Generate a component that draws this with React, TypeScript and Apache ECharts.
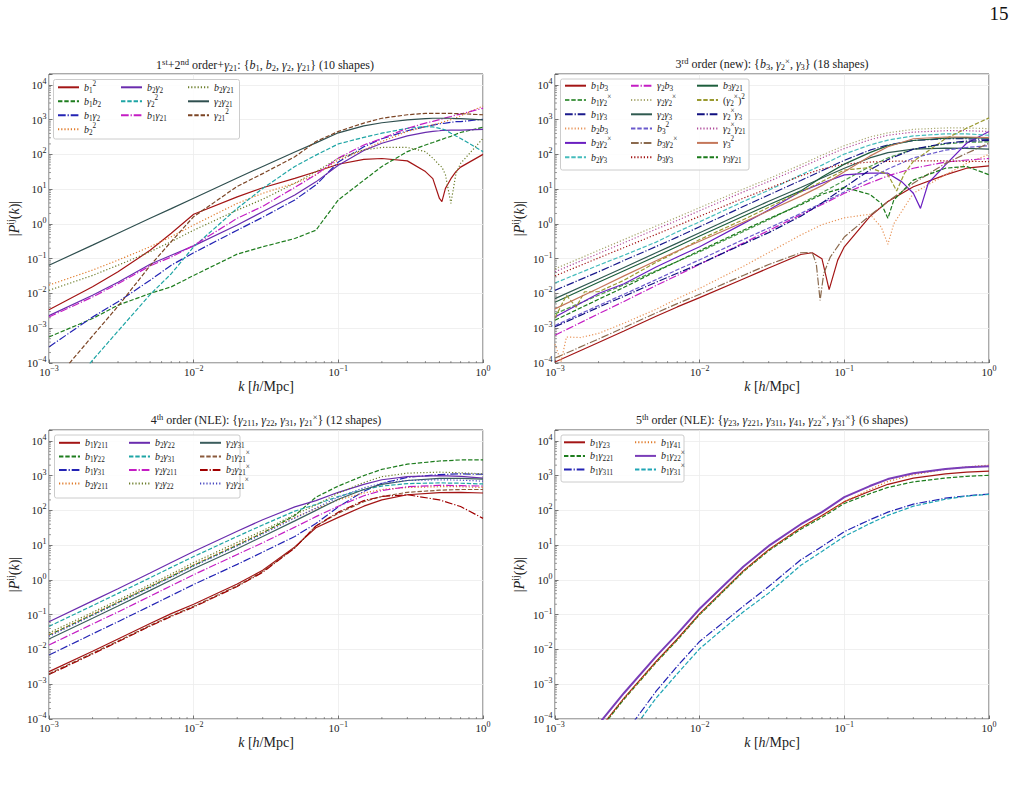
import React, { useEffect, useRef } from 'react';
import * as echarts from 'echarts';

const FONT = "'Liberation Serif', 'DejaVu Serif', serif";
const TXT = '#222222';

// ---------------- k grids (h/Mpc) ----------------
const K1 = [0.001, 0.002, 0.003, 0.005, 0.007, 0.01, 0.02, 0.03, 0.05, 0.07, 0.1, 0.15, 0.2, 0.3, 0.4, 0.45, 0.5, 0.52, 0.55, 0.6, 0.65, 0.7, 1];
const K2 = [0.001, 0.002, 0.003, 0.005, 0.007, 0.01, 0.02, 0.03, 0.05, 0.07, 0.1, 0.15, 0.2, 0.3, 0.5, 0.7, 1];
const K2_b1b3 = [0.001, 0.002, 0.003, 0.005, 0.007, 0.01, 0.02, 0.03, 0.05, 0.06, 0.07, 0.0785, 0.09, 0.1, 0.15, 0.2, 0.3, 0.5, 0.7, 1];
const K2_b3g2x = [0.001, 0.002, 0.003, 0.005, 0.007, 0.01, 0.02, 0.03, 0.05, 0.06, 0.064, 0.068, 0.072, 0.08, 0.1, 0.15, 0.2, 0.3, 0.5, 0.7, 1];
const K2_b2b3 = [0.001, 0.0011, 0.0012, 0.0015, 0.002, 0.003, 0.005, 0.007, 0.01, 0.02, 0.03, 0.05, 0.07, 0.1, 0.15, 0.18, 0.2, 0.22, 0.3, 0.5, 0.7, 1];
const K2_b2g2x = [0.001, 0.002, 0.003, 0.005, 0.007, 0.01, 0.02, 0.03, 0.05, 0.07, 0.1, 0.15, 0.2, 0.25, 0.3, 0.336, 0.38, 0.5, 0.7, 1];
const K2_g3g21 = [0.001, 0.002, 0.003, 0.005, 0.007, 0.01, 0.02, 0.03, 0.05, 0.07, 0.1, 0.15, 0.18, 0.2, 0.22, 0.3, 0.5, 0.7, 1];
const K2_g2xsq = [0.001, 0.0012, 0.0014, 0.0016, 0.002, 0.003, 0.005, 0.007, 0.01, 0.02, 0.03, 0.05, 0.07, 0.1, 0.15, 0.2, 0.23, 0.26, 0.3, 0.5, 0.7, 1];
const K3 = [0.001, 0.002, 0.003, 0.005, 0.007, 0.01, 0.02, 0.03, 0.05, 0.07, 0.1, 0.15, 0.2, 0.3, 0.5, 0.7, 1];
const K4 = [0.001, 0.002, 0.003, 0.005, 0.007, 0.01, 0.02, 0.03, 0.05, 0.07, 0.1, 0.15, 0.2, 0.3, 0.5, 0.7, 1];

// ---------------- panel 1: 1st+2nd order + gamma21 ----------------
const P1_b1b1 = [3.4e-3, 1.55e-2, 4.2e-2, 0.174, 0.54, 1.9, 6.0, 11, 20.4, 31.6, 52, 72, 76, 65, 32, 20, 5.4, 4.4, 10.5, 20, 32, 43, 100];
const P1_b1b2 = [5.6e-4, 1.9e-3, 4.6e-3, 1.0e-2, 1.55e-2, 3.3e-2, 0.135, 0.22, 0.38, 0.66, 4.9, 18, 45, 120, 186, 219, 257, 269, 295, 331, 380, 427, 603];
const P1_b1g2 = [2.9e-4, 2.1e-3, 5.75e-3, 2.4e-2, 6.5e-2, 0.148, 0.66, 1.55, 4.9, 13.2, 60, 166, 282, 479, 631, 692, 759, 776, 794, 832, 871, 880, 1023];
const P1_b2b2 = [1.74e-2, 4.7e-2, 9.1e-2, 0.22, 0.43, 0.93, 3.9, 7.6, 14.8, 25.7, 69, 135, 234, 457, 631, 708, 794, 832, 891, 1000, 1122, 1288, 2455];
const P1_b2g2 = [2.3e-3, 8.9e-3, 2.1e-2, 6.9e-2, 0.126, 0.234, 0.93, 2.24, 6.8, 16.2, 49, 129, 209, 339, 427, 457, 479, 490, 490, 501, 501, 501, 525];
const P1_g2g2 = [4e-6, 1.2e-4, 8.3e-4, 9.3e-3, 3.7e-2, 0.22, 2.8, 10.5, 45, 95, 200, 309, 407, 562, 631, 617, 562, 537, 501, 407, 339, 288, 120];
const P1_b1g21 = [2.1e-3, 7.9e-3, 1.9e-2, 6.2e-2, 0.112, 0.24, 1.45, 3.2, 11.2, 26, 78, 186, 288, 562, 794, 891, 1000, 1047, 1122, 1230, 1349, 1445, 2138];
const P1_b2g21 = [1.23e-2, 3.3e-2, 6.5e-2, 0.158, 0.31, 0.66, 2.5, 5.1, 14.8, 31.6, 78, 135, 158, 158, 120, 78, 49, 43, 26, 3.9, 28, 55, 288];
const P1_g2g21 = [6.5e-2, 0.245, 0.54, 1.45, 2.75, 5.5, 21, 45, 117, 214, 417, 661, 813, 977, 1072, 1096, 1096, 1096, 1096, 1096, 1072, 1072, 977];
const P1_g21g21 = [2e-5, 6e-4, 4.3e-3, 6.3e-2, 0.31, 1.62, 12, 28, 85, 234, 457, 794, 1096, 1380, 1514, 1514, 1514, 1514, 1514, 1514, 1479, 1479, 1380];

// ---------------- panel 2: 3rd order (new) ----------------
const P2_b1b3 = [1.07e-4, 3.9e-4, 8.3e-4, 2.2e-3, 4.1e-3, 7.6e-3, 2.6e-2, 5.4e-2, 0.132, 0.148, 0.1, 0.0129, 0.091, 0.22, 1.62, 4.4, 11.7, 25.7, 40, 47];
const P2_b1g2x = [2.6e-3, 8.9e-3, 1.78e-2, 4.5e-2, 8.3e-2, 0.158, 0.6, 1.32, 3.8, 7.9, 17.8, 44.7, 79, 141, 200, 224, 229];
const P2_b1g3 = [1.23e-2, 4.2e-2, 8.9e-2, 0.224, 0.417, 0.83, 3.16, 6.8, 17.8, 33.9, 67.6, 132, 186, 251, 282, 282, 269];
const P2_b2b3 = [3.5e-4, 1.07e-4, 5.6e-4, 5.4e-4, 7.1e-4, 1.4e-3, 3.5e-3, 7.1e-3, 1.4e-2, 6.0e-2, 0.15, 0.48, 0.95, 1.5, 1.9, 0.81, 0.26, 1.02, 7.6, 26, 55, 100];
const P2_b2g2x = [2.1e-3, 1.0e-2, 1.9e-2, 5.75e-2, 0.112, 0.22, 1.02, 2.5, 8.5, 14.8, 25.7, 28.8, 28.8, 16.2, 7.6, 2.8, 14.8, 50, 209, 457];
const P2_b2g3 = [2.0e-2, 6.5e-2, 0.126, 0.3, 0.59, 1.15, 4.4, 9.3, 25.7, 49, 102, 186, 257, 339, 389, 389, 355];
const P2_g2b3 = [6.3e-4, 2.6e-3, 5.9e-3, 1.7e-2, 3.3e-2, 6.9e-2, 0.28, 0.65, 1.82, 3.6, 7.6, 15.1, 24, 40, 60, 69, 76];
const P2_g2g2x = [5.1e-2, 0.174, 0.355, 0.87, 1.55, 2.95, 10, 20, 50, 95, 178, 316, 417, 525, 575, 575, 550];
const P2_g2g3 = [7.1e-3, 2.6e-2, 5.6e-2, 0.148, 0.28, 0.56, 2.1, 4.5, 11.2, 20.9, 39.8, 79, 112, 141, 151, 148, 141];
const P2_b3b3 = [1.2e-3, 4.5e-3, 9.5e-3, 2.5e-2, 4.8e-2, 9.3e-2, 0.355, 0.76, 2.0, 4.0, 8.3, 20, 38, 79, 132, 158, 178];
const P2_b3g2x = [1.38e-4, 4.9e-4, 1.05e-3, 2.75e-3, 5.1e-3, 9.5e-3, 3.3e-2, 6.8e-2, 0.148, 0.151, 0.071, 0.0063, 0.037, 0.112, 0.42, 1.74, 4.4, 14.8, 55, 107, 209];
const P2_b3g3 = [3.2e-2, 0.105, 0.209, 0.5, 0.89, 1.66, 5.5, 10.5, 24, 38, 52.5, 60, 63, 65, 65, 63, 62];
const P2_b3g21 = [5.6e-3, 2.1e-2, 4.5e-2, 0.117, 0.224, 0.447, 1.66, 3.55, 8.9, 22.4, 52.5, 112, 178, 251, 295, 302, 295];
const P2_g2xg2x = [2.0e-3, 8.9e-3, 4.0e-3, 1.12e-2, 1.12e-2, 2.4e-2, 7.9e-2, 0.158, 0.355, 1.32, 3.0, 8.3, 16.6, 35.5, 41.7, 26.3, 8.9, 28.2, 63, 282, 562, 1122];
const P2_g2xg3 = [1.1e-3, 4.0e-3, 8.3e-3, 2.1e-2, 3.8e-2, 7.1e-2, 0.263, 0.562, 1.66, 4.0, 11.2, 35.5, 70.8, 141, 209, 240, 251];
const P2_g2xg21 = [4.2e-2, 0.141, 0.288, 0.71, 1.26, 2.4, 8.3, 16.6, 41.7, 79, 148, 263, 355, 437, 479, 479, 457];
const P2_g3g3 = [3.6e-3, 1.41e-2, 3.2e-2, 8.7e-2, 0.166, 0.316, 1.12, 2.4, 6.3, 12.6, 31.6, 89, 166, 282, 316, 316, 302];
const P2_g3g21 = [1.7e-3, 6.8e-3, 1.5e-2, 4.3e-2, 8.3e-2, 0.17, 0.66, 1.41, 3.55, 7.1, 11.2, 7.1, 3.9, 1.45, 4.9, 18.2, 40, 45, 26];

// ---------------- panel 3: 4th order (NLE) ----------------
const P3_b1g211 = [2.3e-3, 8.9e-3, 2.0e-2, 5.6e-2, 0.107, 0.2, 0.76, 1.9, 8.9, 31.6, 63, 132, 200, 282, 324, 331, 316];
const P3_b1g22 = [2.6e-2, 0.1, 0.224, 0.63, 1.26, 2.63, 10, 22.4, 71, 240, 501, 1000, 1514, 2138, 2630, 2818, 2818];
const P3_b1g31 = [6.9e-3, 2.8e-2, 6.3e-2, 0.178, 0.355, 0.74, 2.8, 6.3, 17.8, 41.7, 126, 355, 603, 891, 1072, 1122, 1096];
const P3_b2g211 = [2.6e-2, 0.105, 0.234, 0.66, 1.32, 2.75, 10.5, 22.9, 63, 112, 200, 316, 398, 457, 479, 479, 457];
const P3_b2g22 = [6.3e-2, 0.25, 0.56, 1.58, 3.16, 6.6, 25, 54, 126, 191, 331, 562, 759, 933, 1000, 955, 851];
const P3_b2g31 = [4.6e-2, 0.182, 0.41, 1.15, 2.3, 4.7, 17.8, 38, 95, 148, 251, 398, 501, 589, 617, 603, 575];
const P3_g2g211 = [1.35e-2, 5.4e-2, 0.12, 0.34, 0.68, 1.41, 5.4, 11.7, 33, 66, 132, 263, 372, 479, 525, 513, 501];
const P3_g2g22 = [3.0e-2, 0.117, 0.263, 0.74, 1.48, 3.16, 12, 26, 76, 141, 316, 631, 933, 1175, 1259, 1202, 1122];
const P3_g2g31 = [2.0e-2, 7.9e-2, 0.178, 0.5, 1.0, 2.1, 7.9, 17.8, 50, 100, 209, 398, 562, 724, 832, 832, 794];
const P3_b1g21x = [2.0e-3, 7.8e-3, 1.74e-2, 4.9e-2, 9.3e-2, 0.174, 0.676, 1.74, 8.5, 35.5, 83, 178, 251, 331, 380, 398, 398];
const P3_b2g21x = [1.9e-3, 7.4e-3, 1.66e-2, 4.7e-2, 8.9e-2, 0.166, 0.646, 1.66, 8.3, 35.5, 89, 191, 251, 282, 200, 129, 59];
const P3_g2g21x = [2.4e-2, 9.5e-2, 0.214, 0.6, 1.2, 2.5, 9.5, 20.9, 60, 117, 240, 447, 603, 724, 759, 741, 692];

// ---------------- panel 4: 5th order (NLE) ----------------
const P4_b1g23 = [6.3e-7, 4.8e-5, 4.0e-4, 4.5e-3, 2.0e-2, 0.107, 1.82, 7.4, 31.6, 71, 178, 355, 562, 851, 1122, 1259, 1349];
const P4_b1g221 = [5.6e-7, 4.4e-5, 3.7e-4, 4.2e-3, 1.86e-2, 0.1, 1.7, 6.9, 28.8, 63, 158, 302, 457, 661, 851, 955, 1023];
const P4_b1g311 = [1e-7, 2.5e-6, 3.5e-5, 6.3e-4, 3.3e-3, 1.7e-2, 0.174, 0.646, 3.8, 9.1, 24.5, 53.7, 89, 151, 224, 263, 295];
const P4_b1g41 = [6.0e-7, 4.6e-5, 3.8e-4, 4.3e-3, 1.9e-2, 0.102, 1.74, 7.2, 31.6, 69, 178, 398, 676, 1072, 1514, 1778, 1995];
const P4_b1g22x = [1e-6, 7.1e-5, 5.6e-4, 6.3e-3, 2.8e-2, 0.148, 2.4, 9.5, 40, 89, 240, 501, 794, 1175, 1549, 1738, 1862];
const P4_b1g31x = [5e-8, 1.26e-6, 2.2e-5, 4.0e-4, 2.0e-3, 1.05e-2, 0.12, 0.417, 2.63, 6.6, 17.8, 41.7, 72, 132, 209, 257, 288];

// axis ranges
const XMIN = 1e-3;
const XMAX = 1;
const YMIN = 1e-4;
const YMAX = 2.05e4;

type Dash = 'solid' | 'dashed' | 'dashdot' | 'dotted';
const DASH: Record<Dash, any> = {
  solid: 'solid',
  dashed: [4.4, 1.9],
  dashdot: [7.7, 1.9, 1.2, 1.9],
  dotted: [1.2, 2.0],
};

interface Curve { name: string; k: number[]; v: number[]; color: string; dash: Dash; width?: number }

const PANEL1: Curve[] = [
  { name: 'b_1^2', k: K1, v: P1_b1b1, color: '#a31515', dash: 'solid' },
  { name: 'b_1b_2', k: K1, v: P1_b1b2, color: '#1e7d1e', dash: 'dashed' },
  { name: 'b_1γ_2', k: K1, v: P1_b1g2, color: '#2323b4', dash: 'dashdot' },
  { name: 'b_2^2', k: K1, v: P1_b2b2, color: '#e07b2a', dash: 'dotted' },
  { name: 'b_2γ_2', k: K1, v: P1_b2g2, color: '#6a2cae', dash: 'solid' },
  { name: 'γ_2^2', k: K1, v: P1_g2g2, color: '#1fa5a5', dash: 'dashed' },
  { name: 'b_1γ_{21}', k: K1, v: P1_b1g21, color: '#c41dc4', dash: 'dashdot' },
  { name: 'b_2γ_{21}', k: K1, v: P1_b2g21, color: '#6b7d2a', dash: 'dotted' },
  { name: 'γ_2γ_{21}', k: K1, v: P1_g2g21, color: '#2f4f4f', dash: 'solid' },
  { name: 'γ_{21}^2', k: K1, v: P1_g21g21, color: '#7b4424', dash: 'dashed' },
];

const PANEL2: Curve[] = [
  { name: 'b_1b_3', k: K2_b1b3, v: P2_b1b3, color: '#a31515', dash: 'solid' },
  { name: 'b_1γ_2^×', k: K2, v: P2_b1g2x, color: '#4c9a4c', dash: 'dashed' },
  { name: 'b_1γ_3', k: K2, v: P2_b1g3, color: '#1a1a8c', dash: 'dashdot' },
  { name: 'b_2b_3', k: K2_b2b3, v: P2_b2b3, color: '#e8955a', dash: 'dotted' },
  { name: 'b_2γ_2^×', k: K2_b2g2x, v: P2_b2g2x, color: '#6a1fc0', dash: 'solid' },
  { name: 'b_2γ_3', k: K2, v: P2_b2g3, color: '#45bcbc', dash: 'dashed' },
  { name: 'γ_2b_3', k: K2, v: P2_g2b3, color: '#c41dc4', dash: 'dashdot' },
  { name: 'γ_2γ_2^×', k: K2, v: P2_g2g2x, color: '#a8a870', dash: 'dotted' },
  { name: 'γ_2γ_3', k: K2, v: P2_g2g3, color: '#2f5a50', dash: 'solid' },
  { name: 'b_3^2', k: K2, v: P2_b3b3, color: '#6a5acd', dash: 'dashed' },
  { name: 'b_3γ_2^×', k: K2_b3g2x, v: P2_b3g2x, color: '#8b6a4e', dash: 'dashdot' },
  { name: 'b_3γ_3', k: K2, v: P2_b3g3, color: '#a01010', dash: 'dotted' },
  { name: 'b_3γ_{21}', k: K2, v: P2_b3g21, color: '#1d5e3c', dash: 'solid' },
  { name: '(γ_2^×)^2', k: K2_g2xsq, v: P2_g2xg2x, color: '#9a9a30', dash: 'dashed' },
  { name: 'γ_2^×γ_3', k: K2, v: P2_g2xg3, color: '#101080', dash: 'dashdot' },
  { name: 'γ_2^×γ_{21}', k: K2, v: P2_g2xg21, color: '#b04a9a', dash: 'dotted' },
  { name: 'γ_3^2', k: K2, v: P2_g3g3, color: '#c4775a', dash: 'solid' },
  { name: 'γ_3γ_{21}', k: K2_g3g21, v: P2_g3g21, color: '#1a7a1a', dash: 'dashed' },
];

const PANEL3: Curve[] = [
  { name: 'b_1γ_{211}', k: K3, v: P3_b1g211, color: '#a31515', dash: 'solid' },
  { name: 'b_1γ_{22}', k: K3, v: P3_b1g22, color: '#1e7d1e', dash: 'dashed' },
  { name: 'b_1γ_{31}', k: K3, v: P3_b1g31, color: '#2323b4', dash: 'dashdot' },
  { name: 'b_2γ_{211}', k: K3, v: P3_b2g211, color: '#e07b2a', dash: 'dotted' },
  { name: 'b_2γ_{22}', k: K3, v: P3_b2g22, color: '#6a2cae', dash: 'solid' },
  { name: 'b_2γ_{31}', k: K3, v: P3_b2g31, color: '#1fa5a5', dash: 'dashed' },
  { name: 'γ_2γ_{211}', k: K3, v: P3_g2g211, color: '#c41dc4', dash: 'dashdot' },
  { name: 'γ_2γ_{22}', k: K3, v: P3_g2g22, color: '#6b7d2a', dash: 'dotted' },
  { name: 'γ_2γ_{31}', k: K3, v: P3_g2g31, color: '#3b5d5d', dash: 'solid' },
  { name: 'b_1γ_{21}^×', k: K3, v: P3_b1g21x, color: '#8b5a3c', dash: 'dashed' },
  { name: 'b_2γ_{21}^×', k: K3, v: P3_b2g21x, color: '#a00000', dash: 'dashdot' },
  { name: 'γ_2γ_{21}^×', k: K3, v: P3_g2g21x, color: '#4848c0', dash: 'dotted' },
];

const PANEL4: Curve[] = [
  { name: 'b_1γ_{23}', k: K4, v: P4_b1g23, color: '#a31515', dash: 'solid' },
  { name: 'b_1γ_{221}', k: K4, v: P4_b1g221, color: '#1e7d1e', dash: 'dashed' },
  { name: 'b_1γ_{311}', k: K4, v: P4_b1g311, color: '#2323b4', dash: 'dashdot' },
  { name: 'b_1γ_{41}', k: K4, v: P4_b1g41, color: '#e07b2a', dash: 'dotted' },
  { name: 'b_1γ_{22}^×', k: K4, v: P4_b1g22x, color: '#7a3db8', dash: 'solid', width: 2 },
  { name: 'b_1γ_{31}^×', k: K4, v: P4_b1g31x, color: '#1fa5b5', dash: 'dashed' },
];

const T1 = '1{sup|st}+2{sup|nd} order+{it|γ}{sub|21}: {{it|b}{sub|1}, {it|b}{sub|2}, {it|γ}{sub|2}, {it|γ}{sub|21}} (10 shapes)';
const T2 = '3{sup|rd} order (new): {{it|b}{sub|3}, {it|γ}{sub|2}{sup|×}, {it|γ}{sub|3}} (18 shapes)';
const T3 = '4{sup|th} order (NLE): {{it|γ}{sub|211}, {it|γ}{sub|22}, {it|γ}{sub|31}, {it|γ}{sub|21}{sup|×}} (12 shapes)';
const T4 = '5{sup|th} order (NLE): {{it|γ}{sub|23}, {it|γ}{sub|221}, {it|γ}{sub|311}, {it|γ}{sub|41}, {it|γ}{sub|22}{sup|×}, {it|γ}{sub|31}{sup|×}} (6 shapes)';

const PANELS = [
  { grid: { left: 49, top: 74, width: 434, height: 289 }, curves: PANEL1, cols: [[0, 1, 2, 3], [4, 5, 6], [7, 8, 9]], colLeft: [57, 120, 187], legendTop: 80.3, lh: 14, gap: 0, box: [53.5, 79.5, 186, 59.5], title: T1, titleXY: [265, 65], yNameGap: 26 },
  { grid: { left: 555, top: 74, width: 434, height: 289 }, curves: PANEL2, cols: [[0, 1, 2, 3, 4, 5], [6, 7, 8, 9, 10, 11], [12, 13, 14, 15, 16, 17]], colLeft: [564, 630, 696], legendTop: 78.7, lh: 14, gap: 0.3, box: [560.5, 79, 188.5, 91], title: T2, titleXY: [772, 64], yNameGap: 27 },
  { grid: { left: 49, top: 430, width: 434, height: 289 }, curves: PANEL3, cols: [[0, 1, 2, 3], [4, 5, 6, 7], [8, 9, 10, 11]], colLeft: [58, 128, 199], legendTop: 436, lh: 13.6, gap: 0, box: [54.5, 435, 185.5, 63], title: T3, titleXY: [266, 420], yNameGap: 26 },
  { grid: { left: 555, top: 430, width: 434, height: 289 }, curves: PANEL4, cols: [[0, 1, 2], [3, 4, 5]], colLeft: [563, 634], legendTop: 435.5, lh: 13.6, gap: 0, box: [561, 435, 123, 47], title: T4, titleXY: [772, 420], yNameGap: 27 },
];

// minor tick positions (matplotlib-style log minor ticks 2..9 per decade)
const MINOR_MULT = [2, 3, 4, 5, 6, 7, 8, 9];
const X_DECADES = [1e-3, 1e-2, 1e-1];
const Y_DECADES = [1e-4, 1e-3, 1e-2, 1e-1, 1, 10, 100, 1000, 10000];

function toRich(s: string): string {
  let out = '';
  let i = 0;
  while (i < s.length) {
    const c = s[i];
    if (c === '_' || c === '^') {
      const st = c === '_' ? 'sub' : 'sup';
      let t = '';
      if (s[i + 1] === '{') {
        const j = s.indexOf('}', i + 2);
        t = s.slice(i + 2, j);
        i = j + 1;
      } else {
        t = s[i + 1];
        i += 2;
      }
      out += '{' + st + '|' + t + '}';
    } else if (/[A-Za-z\u03b1-\u03c9]/.test(c)) {
      out += '{it|' + c + '}';
      i++;
    } else {
      out += '{rm|' + c + '}';
      i++;
    }
  }
  return out;
}

function legendRich(fs: number, lh: number) {
  return {
    it: { fontStyle: 'italic', fontSize: fs, fontFamily: FONT, lineHeight: lh, color: TXT },
    rm: { fontSize: fs, fontFamily: FONT, lineHeight: lh, color: TXT },
    sub: { fontSize: fs * 0.72, fontFamily: FONT, lineHeight: fs * 0.9, verticalAlign: 'bottom', color: TXT },
    sup: { fontSize: fs * 0.72, fontFamily: FONT, lineHeight: fs * 0.9, verticalAlign: 'top', color: TXT },
  };
}

function powLabel(value: number): string {
  const e = Math.log10(value);
  const r = Math.round(e);
  if (Math.abs(e - r) > 1e-6) return '';
  const s = r < 0 ? '\u2212' + String(-r) : String(r);
  return '10{sup|' + s + '}';
}

const LABEL_RICH = { sup: { fontSize: 8, fontFamily: FONT, lineHeight: 9, verticalAlign: 'top', color: TXT } };
const NAME_RICH = {
  it: { fontStyle: 'italic', fontSize: 14, fontFamily: FONT, lineHeight: 18, color: TXT },
  sup: { fontSize: 10, fontFamily: FONT, lineHeight: 10, verticalAlign: 'top', color: TXT },
};

function buildOption() {
  const grids: any[] = [];
  const xAxes: any[] = [];
  const yAxes: any[] = [];
  const legends: any[] = [];
  const series: any[] = [];
  const graphics: any[] = [];

  PANELS.forEach((p, pi) => {
    grids.push({ ...p.grid, show: true, borderColor: '#555555', borderWidth: 1, containLabel: false, outerBoundsMode: 'none' });
    xAxes.push({
      type: 'log', logBase: 10, gridIndex: pi, min: XMIN, max: XMAX,
      axisLine: { show: false },
      axisTick: { show: true, inside: true, length: 3.5, lineStyle: { color: '#555555', width: 0.8 } },
      axisLabel: { formatter: powLabel, fontFamily: FONT, fontSize: 11, color: TXT, lineHeight: 15, margin: 1, rich: LABEL_RICH },
      splitLine: { show: true, lineStyle: { color: '#ececec', width: 0.8 } },
      name: '{it|k} [{it|h}/Mpc]', nameLocation: 'middle', nameGap: 14, nameMoveOverlap: false,
      nameTextStyle: { fontFamily: FONT, fontSize: 14, color: TXT, lineHeight: 18, rich: NAME_RICH },
    });
    yAxes.push({
      type: 'log', logBase: 10, gridIndex: pi, min: YMIN, max: YMAX,
      axisLine: { show: false },
      axisTick: { show: true, inside: true, length: 3.5, lineStyle: { color: '#555555', width: 0.8 } },
      axisLabel: { formatter: powLabel, fontFamily: FONT, fontSize: 11, color: TXT, lineHeight: 15, margin: 2.5, rich: LABEL_RICH },
      splitLine: { show: true, lineStyle: { color: '#ececec', width: 0.8 } },
      name: '|{it|P}{sup|ij}({it|k})|', nameLocation: 'middle', nameGap: p.yNameGap, nameRotate: 90, nameMoveOverlap: false,
      nameTextStyle: { fontFamily: FONT, fontSize: 14, color: TXT, lineHeight: 18, rich: NAME_RICH },
    });

    p.curves.forEach((c) => {
      series.push({
        type: 'line', name: c.name, xAxisIndex: pi, yAxisIndex: pi,
        data: c.k.map((k, j) => [k, c.v[j]]),
        symbol: 'none', showSymbol: false, smooth: false, clip: true, silent: true, z: 2,
        color: c.color,
        itemStyle: { color: c.color },
        lineStyle: { color: c.color, width: c.width ?? 1.2, type: DASH[c.dash], cap: 'butt' },
        emphasis: { disabled: true },
      });
    });

    // minor ticks, placed through the axes' own log scales
    const minorX: number[][] = [];
    X_DECADES.forEach((d) => MINOR_MULT.forEach((m) => minorX.push([m * d, YMIN])));
    const minorY: number[][] = [];
    Y_DECADES.forEach((d) => MINOR_MULT.forEach((m) => { if (m * d < YMAX) minorY.push([XMIN, m * d]); }));
    series.push({
      type: 'custom', xAxisIndex: pi, yAxisIndex: pi, silent: true, z: 3, data: minorX,
      renderItem: (_: any, api: any) => {
        const pt = api.coord([api.value(0), api.value(1)]);
        return { type: 'line', shape: { x1: pt[0], y1: pt[1], x2: pt[0], y2: pt[1] - 2 }, style: { stroke: '#555555', lineWidth: 0.6 } };
      },
    });
    series.push({
      type: 'custom', xAxisIndex: pi, yAxisIndex: pi, silent: true, z: 3, data: minorY,
      renderItem: (_: any, api: any) => {
        const pt = api.coord([api.value(0), api.value(1)]);
        return { type: 'line', shape: { x1: pt[0], y1: pt[1], x2: pt[0] + 2, y2: pt[1] }, style: { stroke: '#555555', lineWidth: 0.6 } };
      },
    });

    p.cols.forEach((col, ci) => {
      legends.push({
        show: true, orient: 'vertical', left: p.colLeft[ci], top: p.legendTop, padding: 0,
        itemWidth: 21, itemHeight: p.lh, itemGap: p.gap, selectedMode: false, z: 4,
        itemStyle: { opacity: 0, borderWidth: 0 },
        data: col.map((idx) => p.curves[idx].name),
        formatter: (n: string) => toRich(n),
        textStyle: { fontFamily: FONT, fontSize: 10, color: TXT, lineHeight: p.lh, rich: legendRich(10, p.lh) },
      });
    });

    const [bx, by, bw, bh] = p.box;
    graphics.push({
      type: 'rect', z: 3, silent: true,
      shape: { x: bx, y: by, width: bw, height: bh, r: 2 },
      style: { fill: 'rgba(255,255,255,0.85)', stroke: '#cccccc', lineWidth: 1 },
    });
    graphics.push({
      type: 'text', z: 5, silent: true, x: p.titleXY[0], y: p.titleXY[1],
      style: {
        text: p.title, fontFamily: FONT, fontSize: 12, fill: TXT, align: 'center', verticalAlign: 'middle', lineHeight: 15,
        rich: {
          it: { fontStyle: 'italic', fontSize: 12, fontFamily: FONT, lineHeight: 15, fill: TXT },
          sub: { fontSize: 8.5, fontFamily: FONT, lineHeight: 10, verticalAlign: 'bottom', fill: TXT },
          sup: { fontSize: 8.5, fontFamily: FONT, lineHeight: 10, verticalAlign: 'top', fill: TXT },
        },
      },
    });
  });

  graphics.push({
    type: 'text', z: 5, silent: true, x: 999, y: 13,
    style: { text: '15', fontFamily: FONT, fontSize: 19, fill: '#111111', align: 'center', verticalAlign: 'middle' },
  });

  return {
    animation: false,
    backgroundColor: '#ffffff',
    grid: grids,
    xAxis: xAxes,
    yAxis: yAxes,
    legend: legends,
    series,
    graphic: { elements: graphics },
  };
}

export default function App() {
  const ref = useRef<HTMLDivElement>(null);
  useEffect(() => {
    if (!ref.current) return;
    const chart = echarts.init(ref.current, null, { renderer: 'svg' });
    chart.setOption(buildOption() as any);
    return () => chart.dispose();
  }, []);
  return <div ref={ref} style={{ position: 'absolute', left: 0, top: 0, width: 1015, height: 788 }} />;
}
